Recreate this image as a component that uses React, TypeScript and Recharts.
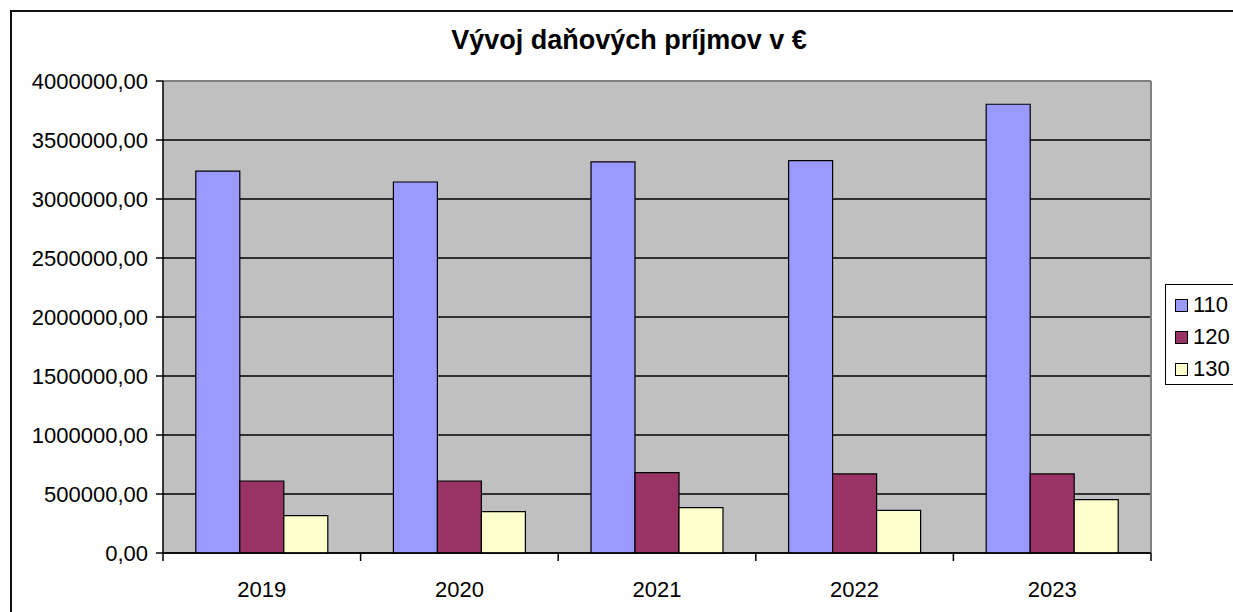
import React from "react"
import {
  BarChart,
  Bar,
  XAxis,
  YAxis,
  CartesianGrid,
  ReferenceLine,
} from "recharts"

const years = ["2019", "2020", "2021", "2022", "2023"]
const s110 = [3237000, 3144000, 3314000, 3325000, 3803000]
const s120 = [610000, 610000, 681000, 670000, 670000]
const s130 = [316000, 350000, 384000, 362000, 452000]
const yTicks = [0, 500000, 1000000, 1500000, 2000000, 2500000, 3000000, 3500000, 4000000]

const seriesList = [
  { key: "s110", name: "110", color: "#9999FF" },
  { key: "s120", name: "120", color: "#993366" },
  { key: "s130", name: "130", color: "#FFFFCC" },
]

const data = years.map((year, i) => ({
  year,
  s110: s110[i],
  s120: s120[i],
  s130: s130[i],
}))

const FONT = '"Liberation Sans", Arial, sans-serif'
const X_TICK_SIZE = 6
const X_TICK_MARGIN = 22

const fmt = (v: number) => v.toFixed(2).replace(".", ",")

// label in the middle of the band, tick marks on the band edges (Excel style)
function YearTick(props: any) {
  const { x, y, payload, index, visibleTicksCount } = props
  const half = payload?.offset ?? 0
  const axisY = y - X_TICK_SIZE - X_TICK_MARGIN
  const last = index === visibleTicksCount - 1
  return (
    <g>
      <line x1={x - half} x2={x - half} y1={axisY} y2={axisY + 8} stroke="#000" strokeWidth={1.5} />
      {last && (
        <line x1={x + half} x2={x + half} y1={axisY} y2={axisY + 8} stroke="#000" strokeWidth={1.5} />
      )}
      <text x={x} y={y} dy="0.71em" textAnchor="middle" fontSize={22} fill="#000" fontFamily={FONT}>
        {payload.value}
      </text>
    </g>
  )
}

export default function App() {
  return (
    <div
      style={{
        position: "absolute",
        left: 0,
        top: 0,
        width: 1233,
        height: 612,
        overflow: "hidden",
        background: "#fff",
        fontFamily: FONT,
      }}
    >
      <div
        style={{
          position: "absolute",
          left: 10,
          top: 10,
          width: 1300,
          height: 700,
          border: "2px solid #111",
        }}
      />
      <div
        style={{
          position: "absolute",
          left: 629,
          top: 27,
          transform: "translateX(-50%)",
          fontSize: 27,
          fontWeight: "bold",
          lineHeight: 1,
          whiteSpace: "nowrap",
          color: "#000",
        }}
      >
        Vývoj daňových príjmov v €
      </div>
      <div style={{ position: "absolute", left: 0, top: 0 }}>
        <BarChart
          width={1233}
          height={612}
          data={data}
          margin={{ top: 81, right: 82, bottom: 9, left: 10 }}
          barCategoryGap="16.6%"
          barGap={0}
        >
          <CartesianGrid vertical={false} stroke="#000" strokeWidth={1.5} fill="#C0C0C0" />
          <ReferenceLine y={4000000} stroke="#808080" strokeWidth={2} />
          <ReferenceLine x="2023" position="end" stroke="#808080" strokeWidth={2} />
          <XAxis
            dataKey="year"
            height={50}
            interval={0}
            tickSize={X_TICK_SIZE}
            tickMargin={X_TICK_MARGIN}
            tickLine={false}
            axisLine={{ stroke: "#000", strokeWidth: 1.5 }}
            tick={<YearTick />}
          />
          <YAxis
            domain={[0, 4000000]}
            ticks={yTicks}
            width={153}
            tickSize={7}
            tickMargin={8}
            tickFormatter={fmt}
            interval={0}
            axisLine={{ stroke: "#000", strokeWidth: 1.5 }}
            tickLine={{ stroke: "#000", strokeWidth: 1.5 }}
            tick={{ fontSize: 22, fill: "#000", fontFamily: FONT }}
          />
          {seriesList.map((s) => (
            <Bar
              key={s.key}
              dataKey={s.key}
              name={s.name}
              fill={s.color}
              stroke="#000"
              strokeWidth={1.2}
              isAnimationActive={false}
            />
          ))}
        </BarChart>
      </div>
      <div
        style={{
          position: "absolute",
          left: 1165,
          top: 284,
          width: 120,
          height: 101,
          border: "1.5px solid #000",
          background: "#fff",
          boxSizing: "border-box",
        }}
      >
        {seriesList.map((s, i) => (
          <div
            key={s.key}
            style={{
              position: "absolute",
              left: 9,
              top: 8 + i * 32,
              display: "flex",
              alignItems: "center",
              fontSize: 22,
              lineHeight: "24px",
              color: "#000",
            }}
          >
            <span
              style={{
                display: "inline-block",
                width: 11,
                height: 11,
                background: s.color,
                border: "1px solid #000",
                marginRight: 5,
              }}
            />
            {s.name}
          </div>
        ))}
      </div>
    </div>
  )
}
